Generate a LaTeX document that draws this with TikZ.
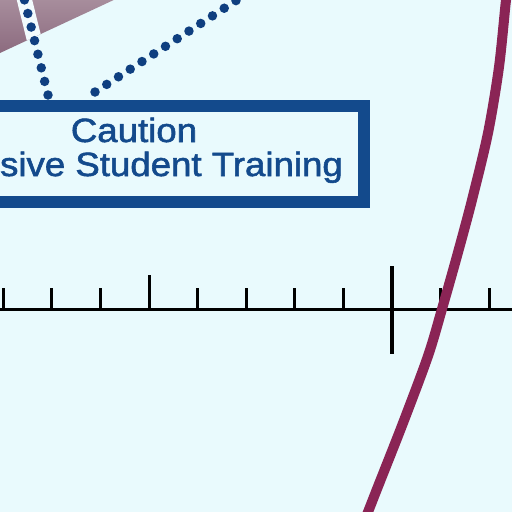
\documentclass[tikz,border=0pt]{standalone}
\usepackage{fontspec}
\setmainfont{Liberation Sans}
\newfontfamily\labelfont{Liberation Sans}[FakeBold=1.6]
\usetikzlibrary{calc}
\definecolor{bgcol}{HTML}{E9FAFD}
\definecolor{framecol}{HTML}{134A8C}
\definecolor{dotcol}{HTML}{0F3F80}
\definecolor{curvecol}{HTML}{8A2455}
\definecolor{mauveA}{HTML}{A88E9D}
\definecolor{mauveB}{HTML}{8C6B7F}
\definecolor{halocol}{HTML}{F2FBFD}
\tikzset{
  framebox/.style={draw=framecol, line width=12.5pt, minimum width=462pt, minimum height=96pt, inner sep=0pt},
  label text/.style={text=framecol, font=\labelfont\fontsize{33.6}{34}\selectfont, inner sep=0pt},
  dotline/.style={draw=dotcol, line width=9.5pt, line cap=round, dash pattern=on 0pt off 14pt},
  halo/.style={draw=halocol, line width=15pt},
  axisline/.style={draw=black, line width=3pt},
  smalltick/.style={draw=black, line width=3pt},
  curveline/.style={draw=curvecol, line width=10pt},
}
\begin{document}
\begin{tikzpicture}[x=1pt,y=-1pt]
\useasboundingbox (0,0) rectangle (512,512);
\fill[bgcol] (0,0) rectangle (512,512);
% mauve band
\shade[top color=mauveA, bottom color=mauveB] (-2,-2) -- (118,-2) -- (0,53) -- cycle;
% box
\node[framebox] (box) at (133,154) {};
\node[label text, anchor=base] (caution) at (134,142) {\scalebox{1.09}[1]{Caution}};
\node[label text, anchor=base east] (training) at (343,176) {\scalebox{1.09}[1]{sive Student Training}};
% dotted connectors
\coordinate (d1) at (23.5,-4);
\coordinate (d2) at (240,-2);
\coordinate (b1) at (48,95);
\coordinate (b2) at (95,92);
\begin{scope}
\clip (-2,-2) -- (118,-2) -- (0,53) -- cycle;
\draw[halo] (d1) -- (b1);
\end{scope}
\draw[dotline] (b1) -- (d1);
\draw[dotline] (b2) -- (d2);
% axis
\coordinate (axl) at (0,309);
\coordinate (axr) at (512,309);
\draw[axisline] (axl) -- (axr);
\foreach \x in {3,51,100,197,246,294,343,440,489}{
  \draw[smalltick] (\x,309) -- (\x,288);
}
\draw[smalltick] (149,309) -- (149,275);
\draw[axisline, line width=3.5pt] (392,266) -- (392,354);
% curve
\draw[curveline] plot[smooth] coordinates {(509,-20) (506,0) (499,67) (488,133) (472,200) (457,256) (442,309) (428,356) (403,423) (377,489) (368,512) (360,532)};
\end{tikzpicture}
\end{document}
